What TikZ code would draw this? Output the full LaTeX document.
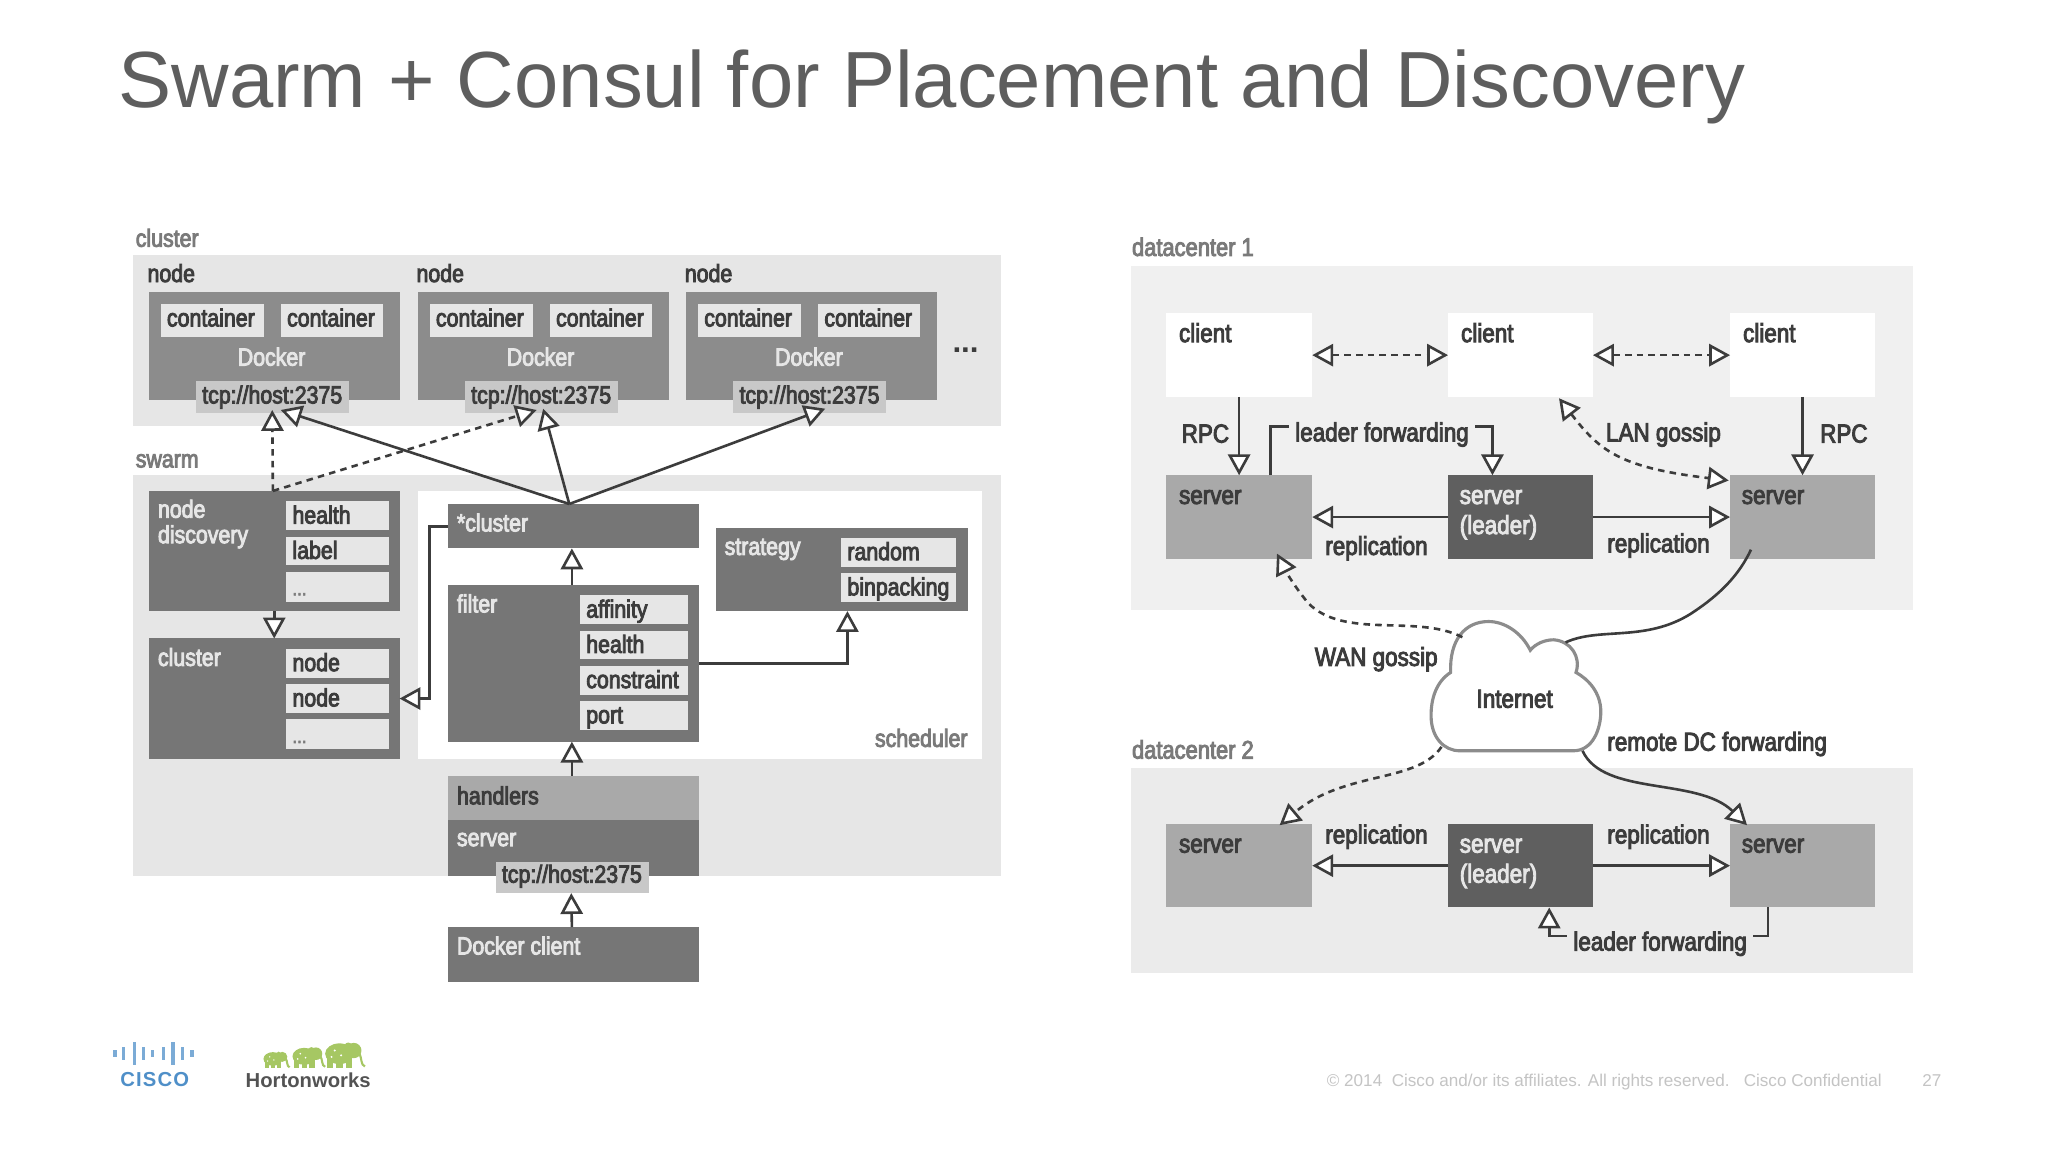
\documentclass[tikz,border=0pt]{standalone}
\usepackage{fontspec}
\setmainfont{Liberation Sans}
\newfontfamily\cond{Liberation Sans}[FakeStretch=0.86,FakeBold=3.5]
\usetikzlibrary{arrows.meta,calc}
\definecolor{bgA}{HTML}{E6E6E6}
\definecolor{bgB}{HTML}{F0F0F0}
\definecolor{bgC}{HTML}{EBEBEB}
\definecolor{midg}{HTML}{8C8C8C}
\definecolor{darkg}{HTML}{767676}
\definecolor{lite}{HTML}{A9A9A9}
\definecolor{lead}{HTML}{5F5F5F}
\definecolor{inner}{HTML}{E6E6E6}
\definecolor{tcpg}{HTML}{C8C8C8}
\definecolor{ink}{HTML}{3C3C3C}
\definecolor{capg}{HTML}{7A7A7A}
\definecolor{titleg}{HTML}{5E5E5E}
\definecolor{footg}{HTML}{C4C4C4}
\definecolor{ciscob}{HTML}{4F8FC8}
\definecolor{hwg}{HTML}{A6C763}
\newcommand{\bx}[6]{%
  \pgfmathsetmacro\bxw{(#5)-(#3)}\pgfmathsetmacro\bxh{(#6)-(#4)}%
  \node[box,#1,minimum width=\bxw pt,minimum height=\bxh pt] (#2) at ({((#3)+(#5))/2},{((#4)+(#6))/2}) {};}
\newcommand{\elephant}[3]{%
  \begin{scope}[shift={(#1,#2)},scale=#3,fill=hwg]
    \fill (0,0) ellipse (9 and 6.5);
    \fill (9,-2) circle (4.8);
    \fill (5.5,-2) ellipse (3.2 and 5);
    \fill (-8,0) rectangle (-4,9);
    \fill (-2,0) rectangle (2,9);
    \fill (4,0) rectangle (8,9);
    \draw[hwg,line width=1.6pt] (12,-1) .. controls (14.5,3) and (13,7) .. (16,8);
    \fill[white] (-3,-2) circle (0.7) (1,1) circle (0.7) (-5,2) circle (0.7);
  \end{scope}}
\tikzset{
  x=1pt,y=-1pt,
  box/.style={rectangle,draw=none,inner sep=0pt,outer sep=0pt},
  lbl/.style={inner sep=0pt,outer sep=0pt,anchor=base west,text=ink,font=\cond\fontsize{19}{19.5}\selectfont,align=left},
  wlbl/.style={lbl,text=inner},
  caplbl/.style={lbl,text=capg},
  midl/.style={lbl,anchor=base},
  rlbl/.style={lbl,font=\cond\fontsize{20}{21}\selectfont},
  rwlbl/.style={rlbl,text=inner},
  rcap/.style={rlbl,text=capg,font=\cond\fontsize{19.5}{20}\selectfont},
  tri/.style={-{Triangle[length=16pt,width=17pt,fill=white,line width=2pt]}},
  tribi/.style={{Triangle[length=16pt,width=17pt,fill=white,line width=2pt]}-{Triangle[length=16pt,width=17pt,fill=white,line width=2pt]}},
  conn/.style={draw=ink,line width=2pt},
  dsh/.style={dash pattern=on 5pt off 4pt},
}
\begin{document}
\begin{tikzpicture}
\useasboundingbox[fill=white] (0,0) rectangle (1568.5,882.3);
% title
\node[inner sep=0pt,anchor=base west,text=titleg,font=\fontsize{61}{61}\selectfont] (title) at (90.5,82) {Swarm + Consul for Placement and Discovery};
% --- left panel backgrounds
\node[caplbl] (capcluster) at (104,189) {cluster};
\bx{fill=bgA}{clusterbg}{102}{195}{767}{326}
\node[caplbl] (capswarm) at (104,358) {swarm};
\bx{fill=bgA}{swarmbg}{102}{364}{767}{671}
% cluster nodes
\foreach \n/\dx in {1/0,2/206,3/411.5}{
  \node[lbl] (nl\n) at ({113+\dx},216) {node};
  \bx{fill=midg}{nd\n}{114+\dx}{224}{306+\dx}{306}
  \bx{fill=inner}{ca\n}{123+\dx}{233}{202+\dx}{258}
  \bx{fill=inner}{cb\n}{215+\dx}{233}{293+\dx}{258}
  \node[midl] (cat\n) at ({161.5+\dx},250) {container};
  \node[midl] (cbt\n) at ({253.5+\dx},250) {container};
  \node[midl,text=inner] (dk\n) at ({208+\dx},280) {Docker};
  \bx{fill=tcpg}{tcp\n}{150+\dx}{292}{267+\dx}{316}
  \node[midl] (tcpt\n) at ({208.5+\dx},309) {tcp://host:2375};
}
\node[midl,font=\bfseries\fontsize{24}{24}\selectfont] (more) at (739.5,270) {...};
% swarm: node discovery
\bx{fill=darkg}{disc}{114}{376}{306}{468}
\node[wlbl] (disct) at (121,416) {node\\discovery};
\bx{fill=inner}{dh}{219}{384}{298}{406}
\node[lbl] (dht) at (224,401) {health};
\bx{fill=inner}{dl}{219}{411}{298}{433}
\node[lbl] (dlt) at (224,428) {label};
\bx{fill=inner}{dd}{219}{438}{298}{461}
\node[lbl,text=capg,font=\cond\fontsize{15}{15}\selectfont] (ddt) at (224,456) {...};
% swarm: cluster
\bx{fill=darkg}{clu}{114}{489}{306}{581}
\node[wlbl] (clut) at (121,510) {cluster};
\bx{fill=inner}{cn1}{219}{497}{298}{519}
\node[lbl] (cn1t) at (224,514) {node};
\bx{fill=inner}{cn2}{219}{524}{298}{546}
\node[lbl] (cn2t) at (224,541) {node};
\bx{fill=inner}{cn3}{219}{551}{298}{574}
\node[lbl,text=capg,font=\cond\fontsize{15}{15}\selectfont] (cn3t) at (224,569) {...};
% scheduler
\bx{fill=white}{sched}{320}{376}{752}{581}
\node[caplbl,anchor=base east] (schedt) at (741,572) {scheduler};
\bx{fill=darkg}{star}{343}{386}{535}{420}
\node[wlbl] (start) at (350,407) {*cluster};
\bx{fill=darkg}{filt}{343}{448}{535}{568}
\node[wlbl] (filtt) at (350,469) {filter};
\bx{fill=inner}{fa}{444}{456}{527}{478}
\node[lbl] (fat) at (449,473) {affinity};
\bx{fill=inner}{fh}{444}{483}{527}{505}
\node[lbl] (fht) at (449,500) {health};
\bx{fill=inner}{fc}{444}{510}{527}{532}
\node[lbl] (fct) at (449,527) {constraint};
\bx{fill=inner}{fp}{444}{537}{527}{559}
\node[lbl] (fpt) at (449,554) {port};
\bx{fill=darkg}{strat}{548}{404}{741}{468}
\node[wlbl] (stratt) at (555,425) {strategy};
\bx{fill=inner}{sr}{644}{412}{732}{434}
\node[lbl] (srt) at (649,429) {random};
\bx{fill=inner}{sb}{644}{439}{732}{461}
\node[lbl] (sbt) at (649,456) {binpacking};
% server stack
\bx{fill=lite}{hand}{343}{594}{535}{628}
\node[lbl] (handt) at (350,616) {handlers};
\bx{fill=darkg}{serv}{343}{628}{535}{671}
\node[wlbl] (servt) at (350,648) {server};
\bx{fill=tcpg}{tcps}{380}{660}{497}{684}
\node[midl] (tcpst) at (438,676) {tcp://host:2375};
\bx{fill=darkg}{dcli}{343}{710}{535}{752}
\node[wlbl] (dclit) at (350,731) {Docker client};
% --- left connectors
\coordinate (apex) at ($(star.north)+(-3,0)$);
\coordinate (dapex) at ($(disc.north)+(-1,0)$);
\draw[conn,tri] (apex) -- ($(tcp1.south)+(6.5,-2)$);
\draw[conn,tri] (apex) -- ($(tcp2.south)+(1.5,-3)$);
\draw[conn,tri] (apex) -- ($(tcp3.south)+(12,-3)$);
\draw[conn,dsh,tri] (dapex) -- ($(tcp1.south)+(0,-2)$);
\draw[conn,dsh,tri] (dapex) -- ($(tcp2.south)+(-3.5,-2)$);
\draw[conn,tri] (filt.north) ++(-1,0) -- ($(star.south)+(-1,0)$);
\draw[conn,tri] (hand.north) ++(-1,0) -- ($(filt.south)+(-1,0)$);
\draw[conn,tri] (dcli.north) ++(-1,0) -- ($(tcps.south)+(-1,0)$);
\draw[conn,tri] (filt.east) -- ($(filt.east -| sr.west)+(5,0)$) -- ($(strat.south -| sr.west)+(5,0)$);
\draw[conn,tri] (star.west) -- ++(-14,0) |- (clu.east);
\draw[conn,tri] (disc.south) -- (clu.north);
% --- right panel
\node[rcap] (capdc1) at (867,196) {datacenter 1};
\bx{fill=bgB}{dc1}{866}{204}{1465}{467}
\node[rcap] (capdc2) at (867,581) {datacenter 2};
\bx{fill=bgC}{dc2}{866}{588}{1465}{745}
\foreach \n/\xa/\xb in {1/893/1005,2/1109/1220,3/1325/1436}{
  \bx{fill=white}{c\n}{\xa}{240}{\xb}{304}
  \node[rlbl] (c\n t) at ({\xa+10},262) {client};
}
\bx{fill=lite}{s1}{893}{364}{1005}{428}
\node[rlbl] (s1t) at (903,386) {server};
\bx{fill=lead}{s2}{1109}{364}{1220}{428}
\node[rwlbl] (s2t) at (1118,409) {server\\[2pt](leader)};
\bx{fill=lite}{s3}{1325}{364}{1436}{428}
\node[rlbl] (s3t) at (1334,386) {server};
\bx{fill=lite}{t1}{893}{631}{1005}{695}
\node[rlbl] (t1t) at (903,653) {server};
\bx{fill=lead}{t2}{1109}{631}{1220}{695}
\node[rwlbl] (t2t) at (1118,676) {server\\[2pt](leader)};
\bx{fill=lite}{t3}{1325}{631}{1436}{695}
\node[rlbl] (t3t) at (1334,653) {server};
% cloud
\draw[draw=midg,fill=white,line width=2.4pt]
  (1118,575) -- (1205,575)
  .. controls (1220,575) and (1226,558) .. (1226,545)
  .. controls (1226,530) and (1216,520) .. (1207,515)
  .. controls (1211,503) and (1203,491) .. (1190,490)
  .. controls (1183,490) and (1176,493) .. (1172,498)
  .. controls (1165,484) and (1152,476) .. (1140,476)
  .. controls (1122,476) and (1110,490) .. (1111,515)
  .. controls (1100,522) and (1096,535) .. (1096,548)
  .. controls (1096,565) and (1106,575) .. (1118,575) -- cycle;
\node[rlbl,anchor=base] (inet) at (1160,542) {Internet};
\coordinate (cloudNW) at (1120,488);
\coordinate (cloudNE) at (1199,492);
\coordinate (cloudSW) at (1104,572);
\coordinate (cloudSE) at (1212,575);
% labels
\node[rlbl] (rpc1) at (905,339) {RPC};
\node[rlbl] (rpc2) at (1394,339) {RPC};
\node[rlbl] (lf1) at (992,338) {leader forwarding};
\node[rlbl] (lan) at (1230,338) {LAN gossip};
\node[rlbl] (rep1) at (1015,425) {replication};
\node[rlbl] (rep2) at (1231,423) {replication};
\node[rlbl] (wan) at (1007,510) {WAN gossip};
\node[rlbl] (rdc) at (1231,575) {remote DC forwarding};
\node[rlbl] (rep3) at (1015,646) {replication};
\node[rlbl] (rep4) at (1231,646) {replication};
\node[rlbl] (lf2) at (1205,728) {leader forwarding};
% right connectors
\draw[conn,dsh,tribi] (c1.east |- 0,272) -- (c2.west |- 0,272);
\draw[conn,dsh,tribi] (c2.east |- 0,272) -- (c3.west |- 0,272);
\draw[conn,tri] (c1.south) -- (s1.north);
\draw[conn,tri] (c3.south) -- (s3.north);
\draw[conn,tri] (s2.west) -- (s1.east);
\draw[conn,tri] (s2.east) -- (s3.west);
\draw[conn,tri] (t2.west) -- (t1.east);
\draw[conn,tri] (t2.east) -- (t3.west);
\draw[conn] ($(s1.north)+(24,0)$) |- ($(lf1.west)+(-5,-6)$);
\draw[conn,tri] ($(lf1.east)+(5,-6)$) -| ($(s2.north)+(-21.5,0)$);
\draw[conn] ($(t3.south)+(-26.5,0)$) |- ($(lf2.east)+(5,-6)$);
\draw[conn,tri] ($(lf2.west)+(-5,-6)$) -| ($(t2.south)+(22,0)$);
\coordinate (lanA) at (1194,305);
\draw[conn,dsh,tribi] (lanA) .. controls (1225,345) and (1240,358) .. (1324,368);
\draw[conn,dsh,tri] (cloudNW) .. controls (1085,470) and (1030,490) .. (1002,462) .. controls (992,450) and (985,438) .. (978,424);
\draw[conn] (cloudNE) .. controls (1225,480) and (1260,492) .. (1295,470) .. controls (1318,455) and (1332,440) .. ($(s3.south west)+(16,-7)$);
\draw[conn,tri] (cloudSE) .. controls (1228,610) and (1300,595) .. (1338,632);
\draw[conn,dsh,tri] (cloudSW) .. controls (1085,600) and (1030,590) .. (980,632);
% footer
\node[inner sep=0pt,anchor=base west,text=footg,font=\fontsize{13.1}{13.1}\selectfont] (foot) at (1016,832) {© 2014\ \ Cisco and/or its affiliates. All rights reserved.\ \ \ Cisco Confidential};
\node[inner sep=0pt,anchor=base west,text=footg,font=\fontsize{13.1}{13.1}\selectfont] (page) at (1472,832) {27};
% cisco logo
\foreach \x/\h in {88/5,94.5/10,103/18,110/10,117/5,125/10,132.5/18,140/10,147/5}{
  \fill[ciscob!75!white] ({\x-1.3},{807-\h/2}) rectangle ({\x+1.3},{807+\h/2});
}
\node[inner sep=0pt,anchor=base,text=ciscob,font=\bfseries\fontsize{15.5}{15.5}\selectfont] (cisco) at (118.5,832) {\addfontfeature{LetterSpace=6}CISCO};
% hortonworks logo
\elephant{209}{811}{0.8}
\elephant{233}{809}{1}
\elephant{260}{807}{1.22}
\node[inner sep=0pt,anchor=base west,text=darkg!70!black,font=\bfseries\fontsize{15.5}{15.5}\selectfont] (hw) at (188,833) {Hortonworks};
\end{tikzpicture}
\end{document}
